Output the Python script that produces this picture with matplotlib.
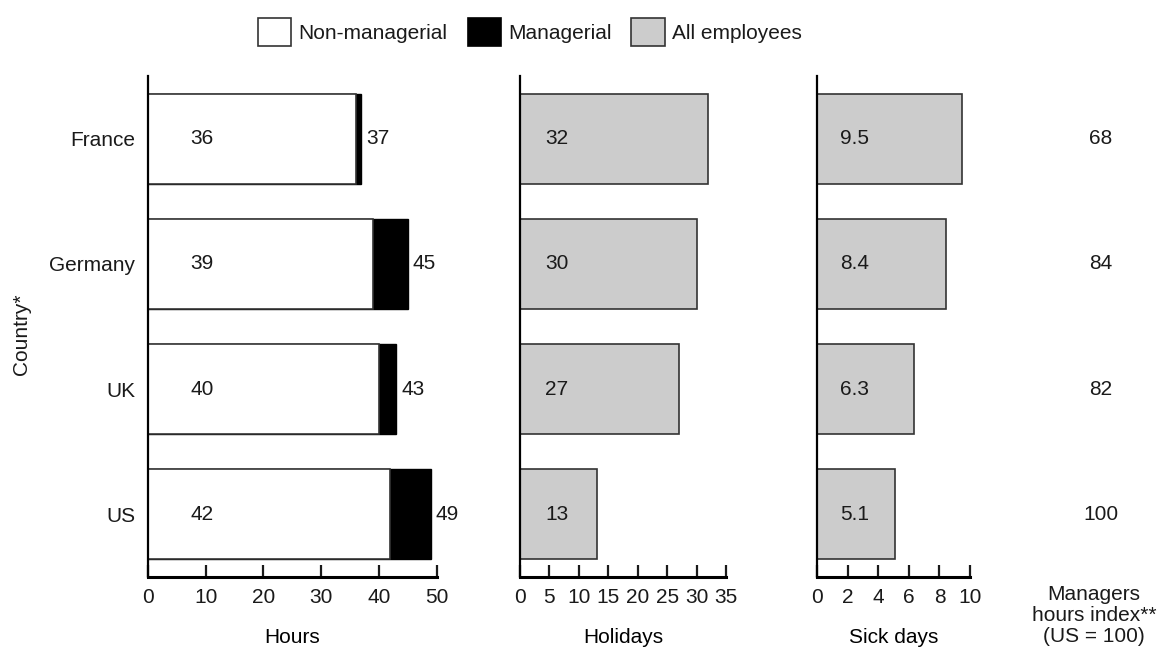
"""Working hours, holidays and sick days by country, three-panel bar chart."""
import matplotlib

matplotlib.use("Agg")
import matplotlib.pyplot as plt  # noqa: E402
from matplotlib.patches import Patch  # noqa: E402
from matplotlib.transforms import blended_transform_factory  # noqa: E402

plt.rcParams["font.family"] = ["Liberation Sans", "DejaVu Sans"]
plt.rcParams["text.color"] = "#1a1a1a"
plt.rcParams["xtick.color"] = "#1a1a1a"
plt.rcParams["ytick.color"] = "#1a1a1a"

countries = ["France", "Germany", "UK", "US"]
hours_nonmanagerial = [36, 39, 40, 42]
hours_managerial = [37, 45, 43, 49]
holidays = [32, 30, 27, 13]
sick_days = [9.5, 8.4, 6.3, 5.1]
sick_labels = ["9.5", "8.4", "6.3", "5.1"]
managers_index = [68, 84, 82, 100]

hours_ticks = [0, 10, 20, 30, 40, 50]
holiday_ticks = [0, 5, 10, 15, 20, 25, 30, 35]
sick_ticks = [0, 2, 4, 6, 8, 10]

GRAY = "#cccccc"
EDGE = "#333333"
FS = 15
BAR_H = 0.72

W, H = 1165, 648
fig = plt.figure(figsize=(W / 100, H / 100), dpi=100)


def panel_axes(left_px, right_px):
    bottom, top = 577, 76
    return fig.add_axes([left_px / W, 1 - bottom / H,
                         (right_px - left_px) / W, (bottom - top) / H])


ax_h = panel_axes(148, 436.5)
ax_d = panel_axes(520, 726)
ax_s = panel_axes(817.3, 970)

ypos = [3 - i for i in range(len(countries))]  # France at top

# managerial total drawn first, non-managerial on top of it
ax_h.barh(ypos, hours_managerial, height=BAR_H, color="black",
          edgecolor="black", lw=1)
ax_h.barh(ypos, hours_nonmanagerial, height=BAR_H, color="white",
          edgecolor=EDGE, lw=1.2)
ax_d.barh(ypos, holidays, height=BAR_H, color=GRAY, edgecolor=EDGE, lw=1.2)
ax_s.barh(ypos, sick_days, height=BAR_H, color=GRAY, edgecolor=EDGE, lw=1.2)

for y, nm, m in zip(ypos, hours_nonmanagerial, hours_managerial):
    ax_h.annotate(str(nm), xy=(0, y), xytext=(54, 0),
                  textcoords="offset pixels", ha="center", va="center",
                  fontsize=FS)
    ax_h.annotate(str(m), xy=(m, y), xytext=(5, 0),
                  textcoords="offset pixels", ha="left", va="center",
                  fontsize=FS)
for y, v in zip(ypos, holidays):
    ax_d.annotate(str(v), xy=(0, y), xytext=(37, 0),
                  textcoords="offset pixels", ha="center", va="center",
                  fontsize=FS)
for y, lab in zip(ypos, sick_labels):
    ax_s.annotate(lab, xy=(0, y), xytext=(37, 0),
                  textcoords="offset pixels", ha="center", va="center",
                  fontsize=FS)

# index column: x in figure space, y in data space
tr = blended_transform_factory(fig.transFigure, ax_s.transData)
for y, v in zip(ypos, managers_index):
    ax_s.text(1101 / W, y, str(v), transform=tr, ha="center", va="center",
              fontsize=FS, clip_on=False)

panels = [(ax_h, (0, 50), hours_ticks, "Hours"),
          (ax_d, (0, 35), holiday_ticks, "Holidays"),
          (ax_s, (0, 10), sick_ticks, "Sick days")]
for ax, xlim, ticks, label in panels:
    ax.set_xlim(*xlim)
    ax.set_ylim(-0.5, 3.5)
    ax.set_xticks(ticks)
    for side in ("top", "right"):
        ax.spines[side].set_visible(False)
    ax.spines["left"].set_linewidth(1.6)
    ax.spines["bottom"].set_linewidth(2.2)
    ax.tick_params(axis="x", direction="in", length=8.5, width=1.6,
                   labelsize=FS, pad=8)
    ax.set_xlabel(label, fontsize=FS, labelpad=15)
    ax.set_yticks([])

ax_h.set_yticks(ypos)
ax_h.set_yticklabels(countries, fontsize=FS)
ax_h.tick_params(axis="y", length=0, pad=9)

fig.text(21 / W, 1 - 334 / H, "Country*", rotation=90, ha="center",
         va="center", fontsize=FS)
fig.text(1094 / W, 1 - 585 / H, "Managers\nhours index**\n(US = 100)",
         ha="center", va="top", fontsize=FS, linespacing=1.12)

handles = [Patch(facecolor="white", edgecolor=EDGE, lw=1.2),
           Patch(facecolor="black", edgecolor="black", lw=1.2),
           Patch(facecolor=GRAY, edgecolor=EDGE, lw=1.2)]
fig.legend(handles, ["Non-managerial", "Managerial", "All employees"],
           loc="center", bbox_to_anchor=(530 / W, 1 - 32 / H), ncol=3,
           frameon=False, fontsize=FS, handlelength=1.6, handleheight=1.7,
           handletextpad=0.35, columnspacing=0.95, borderpad=0)

fig.savefig("out.png", dpi=100)
